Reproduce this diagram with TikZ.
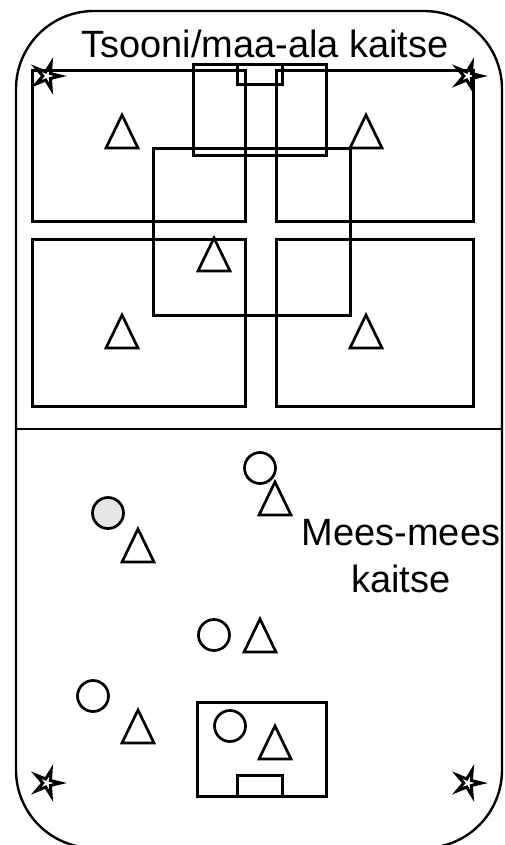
\documentclass[tikz,border=0pt]{standalone}
\usepackage{fontspec}
\setmainfont{Liberation Sans}
\usetikzlibrary{shapes.geometric}
\definecolor{keepergray}{HTML}{E6E6E6}
\tikzset{
  zone/.style={draw=black, line width=3pt},
  player/.style={draw=black, line width=2.7pt},
  flagstar/.style={star, star points=5, star point ratio=3.2, draw=black, line width=3pt,
    minimum size=27pt, inner sep=0pt, shape border rotate=-18},
  caption/.style={align=center, font=\fontsize{38}{47}\selectfont, inner sep=0pt}
}
\begin{document}
\begin{tikzpicture}[x=1pt, y=-1pt]
\useasboundingbox (0,0) rectangle (505,845);
\draw[line width=2.4pt, rounded corners=78pt] (16,11) rectangle (502,848);
\draw[line width=2.6pt] (16,429) -- (502,429);
% four zones
\draw[zone] (32,71) rectangle (245,221);
\draw[zone] (276,71) rectangle (473,221);
\draw[zone] (32,239) rectangle (245,406);
\draw[zone] (276,239) rectangle (473,406);
\draw[zone] (153,149) rectangle (350,315);
% goal areas
\draw[zone] (193,65) rectangle (326,156);
\draw[zone] (237,65) rectangle (282,85);
\draw[zone] (197,702) rectangle (326,796);
\draw[zone] (237,775) rectangle (282,796);
% triangles, apex given
\foreach \tx/\ty in {122/115, 366/115, 214/238, 122/315, 366/315, 275/482, 138/529, 260/619, 138/710, 275/726}
  \draw[player] (\tx,\ty) -- ++(-16,33) -- ++(32,0) -- cycle;
% circles
\foreach \cx/\cy in {260/468, 214/635, 93/696, 230/726}
  \draw[player] (\cx,\cy) circle (15.5);
\draw[player, fill=keepergray] (108,513) circle (15.5);
% corners
\node[flagstar] (cornerNW) at (47,76) {};
\node[flagstar] (cornerNE) at (468,76) {};
\node[flagstar] (cornerSW) at (47,783) {};
\node[flagstar] (cornerSE) at (468,783) {};
\node[caption] (zoneLabel) at (265,44) {Tsooni/maa-ala kaitse};
\node[caption] (manLabel) at (401,556) {Mees-mees\\kaitse};
\end{tikzpicture}
\end{document}
